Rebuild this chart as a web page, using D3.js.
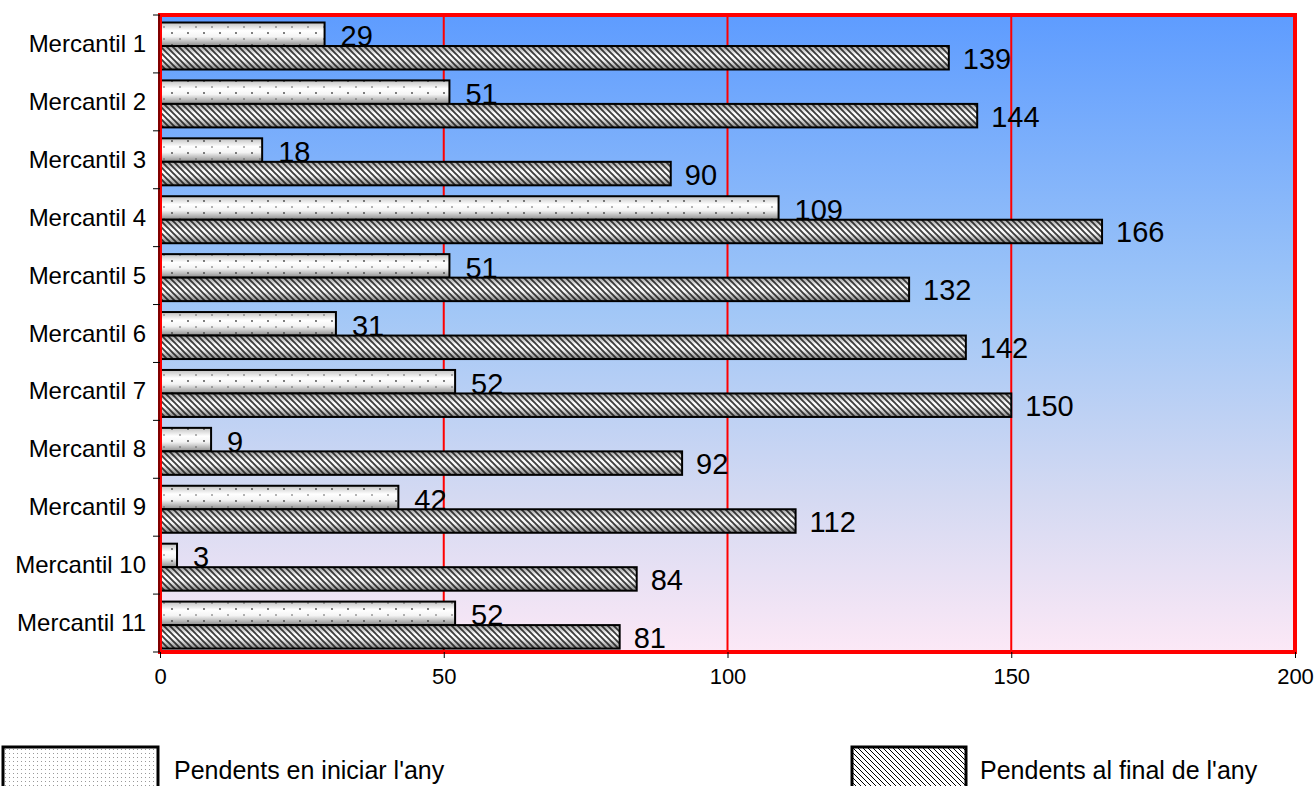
<!DOCTYPE html>
<html><head><meta charset="utf-8">
<script src="https://cdn.jsdelivr.net/npm/d3@7"></script>
<style>body{margin:0;background:#fff;} svg{display:block;font-family:"Liberation Sans",Arial,sans-serif;}</style>
</head><body><svg id="c" width="1315" height="786"></svg>
<script>
const categories = ["Mercantil 1","Mercantil 2","Mercantil 3","Mercantil 4","Mercantil 5","Mercantil 6","Mercantil 7","Mercantil 8","Mercantil 9","Mercantil 10","Mercantil 11"];
const startValues = [29,51,18,109,51,31,52,9,42,3,52];
const endValues = [139,144,90,166,132,142,150,92,112,84,81];
const seriesNames = ["Pendents en iniciar l'any","Pendents al final de l'any"];
const xTicks = [0,50,100,150,200];

const svg = d3.select("#c");
const L = 160, R = 1295, T = 15, B = 652;
const x = d3.scaleLinear().domain([0,200]).range([L,R]);
const y = d3.scaleBand().domain(categories).range([T,B]);
const defs = svg.append("defs");

const bg = defs.append("linearGradient").attr("id","bg").attr("x1",0).attr("y1",0).attr("x2",0).attr("y2",1);
[[0,"#5e9cff"],[0.45,"#9fc6f7"],[0.75,"#d3d9f2"],[1,"#fce8f6"]].forEach(s=>bg.append("stop").attr("offset",s[0]).attr("stop-color",s[1]));

const cyl = defs.append("linearGradient").attr("id","cyl").attr("x1",0).attr("y1",0).attr("x2",0).attr("y2",1);
[[0,"#c0c0c0"],[0.35,"#ffffff"],[0.6,"#f4f4f4"],[1,"#8a8a8a"]].forEach(s=>cyl.append("stop").attr("offset",s[0]).attr("stop-color",s[1]));
const cyl2 = defs.append("linearGradient").attr("id","cyl2").attr("x1",0).attr("y1",0).attr("x2",0).attr("y2",1);
[[0,"#a0a0a0"],[0.4,"#ffffff"],[0.6,"#f4f4f4"],[1,"#808080"]].forEach(s=>cyl2.append("stop").attr("offset",s[0]).attr("stop-color",s[1]));

// hatch pattern
const hp = defs.append("pattern").attr("id","hatch").attr("patternUnits","userSpaceOnUse").attr("width",6).attr("height",6);
hp.append("path").attr("d","M-1,-1 L7,7 M-7,-1 L1,7 M5,-1 L13,7").attr("stroke","#111").attr("stroke-width",1.9);
// dot pattern
const dp = defs.append("pattern").attr("id","dots").attr("patternUnits","userSpaceOnUse").attr("width",16).attr("height",12);
dp.append("circle").attr("cx",4).attr("cy",3).attr("r",0.8).attr("fill","#555");
dp.append("circle").attr("cx",12).attr("cy",9).attr("r",0.9).attr("fill","#444");
// legend patterns
const lh = defs.append("pattern").attr("id","lhatch").attr("patternUnits","userSpaceOnUse").attr("width",5).attr("height",5);
lh.append("path").attr("d","M-1,-1 L6,6 M-6,-1 L1,6 M4,-1 L11,6").attr("stroke","#000").attr("stroke-width",1);
const ld = defs.append("pattern").attr("id","ldots").attr("patternUnits","userSpaceOnUse").attr("width",4).attr("height",4);
ld.append("rect").attr("x",1).attr("y",1).attr("width",1).attr("height",1).attr("fill","#999");

// background
svg.append("rect").attr("x",L).attr("y",T).attr("width",R-L).attr("height",B-T).attr("fill","url(#bg)");

// grid lines
svg.append("g").selectAll("line").data(xTicks.filter(d=>d>0&&d<200)).join("line")
  .attr("x1",d=>x(d)).attr("x2",d=>x(d)).attr("y1",T).attr("y2",B)
  .attr("stroke","#ff0000").attr("stroke-width",2);

const bh = 23.5, off = 7.5;
const g = svg.append("g");
// start bars
const sb = g.selectAll("g.s").data(categories).join("g").attr("class","s");
sb.append("rect").attr("x",x(0)).attr("y",d=>y(d)+off).attr("width",(d,i)=>x(startValues[i])-x(0)).attr("height",bh).attr("fill","url(#cyl)");
sb.append("rect").attr("x",x(0)).attr("y",d=>y(d)+off).attr("width",(d,i)=>x(startValues[i])-x(0)).attr("height",bh).attr("fill","url(#dots)");
sb.append("rect").attr("x",x(0)).attr("y",d=>y(d)+off).attr("width",(d,i)=>x(startValues[i])-x(0)).attr("height",bh).attr("fill","none").attr("stroke","#000").attr("stroke-width",2);
// end bars
const eb = g.selectAll("g.e").data(categories).join("g").attr("class","e");
eb.append("rect").attr("x",x(0)).attr("y",d=>y(d)+off+bh).attr("width",(d,i)=>x(endValues[i])-x(0)).attr("height",bh).attr("fill","url(#cyl2)");
eb.append("rect").attr("x",x(0)).attr("y",d=>y(d)+off+bh).attr("width",(d,i)=>x(endValues[i])-x(0)).attr("height",bh).attr("fill","url(#hatch)").attr("opacity",0.8);
eb.append("rect").attr("x",x(0)).attr("y",d=>y(d)+off+bh).attr("width",(d,i)=>x(endValues[i])-x(0)).attr("height",bh).attr("fill","none").attr("stroke","#000").attr("stroke-width",2);

// value labels
g.selectAll("text.sv").data(categories).join("text").attr("class","sv")
  .attr("x",(d,i)=>x(startValues[i])+16).attr("y",d=>y(d)+off+bh/2+12)
  .attr("font-size",29).attr("fill","#000").text((d,i)=>startValues[i]);
g.selectAll("text.ev").data(categories).join("text").attr("class","ev")
  .attr("x",(d,i)=>x(endValues[i])+14).attr("y",d=>y(d)+off+bh*1.5+11)
  .attr("font-size",29).attr("fill","#000").text((d,i)=>endValues[i]);

// border
svg.append("rect").attr("x",L).attr("y",T).attr("width",R-L).attr("height",B-T).attr("fill","none").attr("stroke","#ff0000").attr("stroke-width",4);

// axes
const xAxis = svg.append("g").attr("transform",`translate(0,${B})`)
  .call(d3.axisBottom(x).tickValues(xTicks).tickSize(6).tickPadding(10).tickFormat(d3.format("d")));
xAxis.select(".domain").remove();
xAxis.selectAll("text").attr("font-size",22).attr("fill","#000").attr("font-family","Liberation Sans, Arial");
xAxis.selectAll("line").attr("stroke","#000");

const yTickVals = categories.map(c=>y(c)).concat([B]);
svg.append("g").selectAll("line").data(yTickVals).join("line")
  .attr("x1",L-7).attr("x2",L).attr("y1",d=>d).attr("y2",d=>d).attr("stroke","#000");
svg.append("line").attr("x1",L-1).attr("x2",L-1).attr("y1",T).attr("y2",B).attr("stroke","#000").attr("stroke-width",1);
svg.append("g").selectAll("text").data(categories).join("text")
  .attr("x",146).attr("y",d=>y(d)+y.bandwidth()/2+8).attr("text-anchor","end")
  .attr("font-size",24).attr("fill","#000").text(d=>d);

// legend
const leg = [{x:3,w:155,fill:"url(#ldots)",tx:174,name:seriesNames[0]},{x:852,w:114,fill:"url(#lhatch)",tx:980,name:seriesNames[1]}];
const lg = svg.append("g").selectAll("g").data(leg).join("g");
lg.append("rect").attr("x",d=>d.x).attr("y",747).attr("width",d=>d.w).attr("height",50).attr("fill","#fff");
lg.append("rect").attr("x",d=>d.x).attr("y",747).attr("width",d=>d.w).attr("height",50).attr("fill",d=>d.fill).attr("stroke","#000").attr("stroke-width",3);
lg.append("text").attr("x",d=>d.tx).attr("y",779).attr("font-size",25).attr("fill","#000").text(d=>d.name);
</script></body></html>
